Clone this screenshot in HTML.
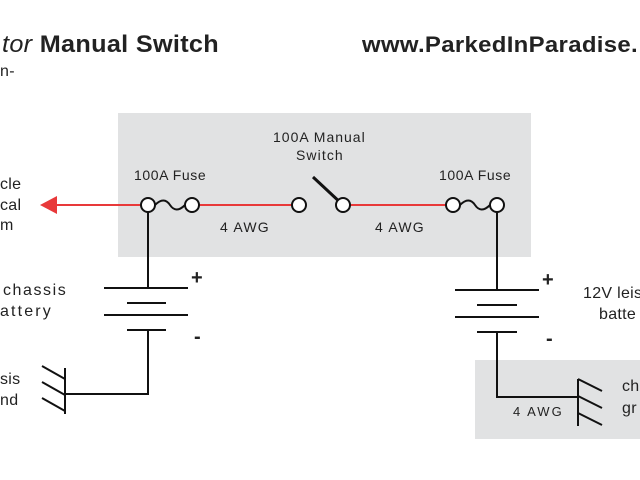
<!DOCTYPE html>
<html><head><meta charset="utf-8"><style>
html,body{margin:0;padding:0;background:#fff;width:640px;height:480px;overflow:hidden}
text{font-family:"Liberation Sans",sans-serif;fill:#222;letter-spacing:0.3px}
</style></head><body>
<svg width="640" height="480" viewBox="0 0 640 480" xmlns="http://www.w3.org/2000/svg">
<rect x="118" y="113" width="413" height="144" fill="#e1e2e3"/>
<rect x="475" y="360" width="165" height="79" fill="#e1e2e3"/>
<text x="2" y="52" font-size="24" font-weight="bold" textLength="217" lengthAdjust="spacingAndGlyphs"><tspan font-style="italic" font-weight="normal">tor</tspan> Manual Switch</text>
<text x="362" y="52" font-size="22" font-weight="bold" textLength="276" lengthAdjust="spacingAndGlyphs">www.ParkedInParadise.</text>
<text x="0" y="76" font-size="16">n-</text>
<text x="0" y="189" font-size="16">cle</text>
<text x="0" y="210" font-size="16">cal</text>
<text x="0" y="230" font-size="16">m</text>
<text x="3" y="295" font-size="16" textLength="63">chassis</text>
<text x="0" y="316" font-size="16" textLength="51">attery</text>
<text x="0" y="384" font-size="16">sis</text>
<text x="0" y="405" font-size="16">nd</text>
<text x="583" y="298" font-size="16">12V leis</text>
<text x="599" y="319" font-size="16">batte</text>
<text x="622" y="391" font-size="16">ch</text>
<text x="622" y="413" font-size="16">gr</text>
<text x="134" y="180" font-size="14" textLength="72">100A Fuse</text>
<text x="439" y="180" font-size="14" textLength="72">100A Fuse</text>
<text x="273" y="142" font-size="14" textLength="92">100A Manual</text>
<text x="296" y="160" font-size="14" textLength="47">Switch</text>
<text x="220" y="232" font-size="14" textLength="49">4 AWG</text>
<text x="375" y="232" font-size="14" textLength="49">4 AWG</text>
<text x="513" y="416" font-size="13" textLength="49">4 AWG</text>
<text x="191" y="284" font-size="20" font-weight="bold">+</text>
<text x="194" y="343" font-size="20" font-weight="bold">-</text>
<text x="542" y="286" font-size="20" font-weight="bold">+</text>
<text x="546" y="345" font-size="20" font-weight="bold">-</text>
<g stroke="#e8393a" stroke-width="2" fill="none">
<line x1="52" y1="205" x2="141" y2="205"/>
<line x1="199" y1="205" x2="292" y2="205"/>
<line x1="350" y1="205" x2="446" y2="205"/>
</g>
<polygon points="40,205 57,196 57,214" fill="#e8393a"/>
<g stroke="#111" stroke-width="2" fill="none">
<path d="M155,205 q9,-9 15,0 q6,9 15,0"/>
<path d="M460,205 q9,-9 15,0 q6,9 15,0"/>
<line x1="343" y1="205" x2="313" y2="177" stroke-width="3"/>
<line x1="148" y1="212" x2="148" y2="288"/>
<line x1="104" y1="288" x2="188" y2="288"/>
<line x1="127" y1="303" x2="166" y2="303"/>
<line x1="104" y1="315" x2="188" y2="315"/>
<line x1="127" y1="330" x2="166" y2="330"/>
<polyline points="148,330 148,394 65,394"/>
<line x1="65" y1="368" x2="65" y2="414"/>
<line x1="42" y1="366" x2="65" y2="379"/>
<line x1="42" y1="382" x2="65" y2="395"/>
<line x1="42" y1="398" x2="65" y2="411"/>
<line x1="497" y1="212" x2="497" y2="290"/>
<line x1="455" y1="290" x2="539" y2="290"/>
<line x1="477" y1="305" x2="517" y2="305"/>
<line x1="455" y1="317" x2="539" y2="317"/>
<line x1="477" y1="332" x2="517" y2="332"/>
<polyline points="497,332 497,397 578,397"/>
<line x1="578" y1="379" x2="578" y2="426"/>
<line x1="578" y1="379" x2="602" y2="391"/>
<line x1="578" y1="396" x2="602" y2="408"/>
<line x1="578" y1="413" x2="602" y2="425"/>
</g>
<g stroke="#111" stroke-width="2" fill="#fff">
<circle cx="148" cy="205" r="7"/>
<circle cx="192" cy="205" r="7"/>
<circle cx="299" cy="205" r="7"/>
<circle cx="343" cy="205" r="7"/>
<circle cx="453" cy="205" r="7"/>
<circle cx="497" cy="205" r="7"/>
</g>
</svg>
</body></html>
